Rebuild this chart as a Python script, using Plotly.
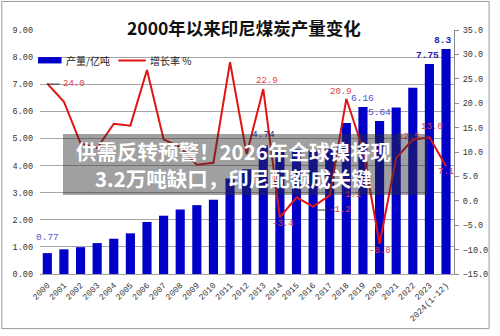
import plotly.graph_objects as go

# ---------------- data ----------------
years = ["2000", "2001", "2002", "2003", "2004", "2005", "2006", "2007", "2008",
         "2009", "2010", "2011", "2012", "2013", "2014", "2015", "2016", "2017",
         "2018", "2019", "2020", "2021", "2022", "2023", "2024(1-12)"]
production = [0.77, 0.91, 0.99, 1.14, 1.30, 1.50, 1.92, 2.15, 2.38, 2.54, 2.74,
              3.52, 3.86, 4.74, 4.58, 4.61, 4.56, 4.61, 5.57, 6.16, 5.64, 6.14,
              6.87, 7.75, 8.30]
growth = [24.0, 20.3, 11.8, 10.8, 15.8, 15.4, 26.8, 12.6, 11.0, 7.4, 7.8, 28.4,
          9.6, 22.9, -3.4, 0.7, -1.2, 1.1, 20.9, 10.5, -8.8, 8.8, 12.5, 13.0, 7.1]

title_text = "2000年以来印尼煤炭产量变化"
legend_names = ["产量/亿吨", "增长率 %"]
overlay_text = "供需反转预警！2026年全球镍将现<br>3.2万吨缺口，印尼配额成关键"

# labelled points (index into years)
bar_label_idx = [0, 13, 19, 20, 23, 24]
line_label_idx = [0, 13, 14, 16, 17, 18, 20, 22, 23, 24]

# ---------------- styling / layout ----------------
W, H = 500, 336
ML, MR, MT, MB = 40, 37.3, 30, 58
PW, PH = W - ML - MR, H - MT - MB

def xp(px):
    return (px - ML) / PW

def yp(py):
    return (H - MB - py) / PH

BLUE = "rgb(0,0,200)"
RED = "rgb(225,20,20)"
MONO = "Liberation Mono"
CJK = "Noto Sans CJK SC"

fig = go.Figure()
fig.add_trace(go.Bar(x=years, y=production, name=legend_names[0],
                     marker=dict(color=BLUE, line=dict(width=0)),
                     width=0.55, yaxis="y"))
fig.add_trace(go.Scatter(x=years, y=growth, name=legend_names[1], mode="lines",
                         line=dict(color=RED, width=2), yaxis="y2"))

annotations = []
# bar data labels: (xshift, yshift, color, bold)
bar_label_style = {
    0: (0, 16, "#5a5ad2", False),
    13: (0, 11, "#1e1e9e", False),
    19: (0, 9, "#5050d0", False),
    20: (0, 9, "#5050d0", False),
    23: (-2, 8, "#2323b0", True),
    24: (-3.5, 8, "#2323b0", True),
}
for i in bar_label_idx:
    dx, dy, col, bold = bar_label_style[i]
    txt = f"{production[i]:.2f}".rstrip("0") if i == 24 else f"{production[i]:.2f}"
    if bold:
        txt = f"<b>{txt}</b>"
    annotations.append(dict(x=i, y=production[i], xref="x", yref="y",
                            text=txt, showarrow=False, xshift=dx, yshift=dy,
                            xanchor="center", yanchor="middle",
                            font=dict(family=MONO, size=9.5, color=col)))

# line data labels
line_label_style = {
    0: (26.5, 0), 13: (4, 8), 14: (3, -7), 16: (27, -3), 17: (23, 0),
    18: (-5, 7), 20: (0, -7), 22: (-4, 3), 23: (2.5, 10), 24: (0, -6),
}
for i in line_label_idx:
    dx, dy = line_label_style[i]
    annotations.append(dict(x=i, y=growth[i], xref="x", yref="y2",
                            text=f"{growth[i]:.1f}", showarrow=False,
                            xshift=dx, yshift=dy,
                            xanchor="center", yanchor="middle",
                            font=dict(family=MONO, size=9, color="#e43c3c")))

# title
annotations.append(dict(x=xp(248), y=yp(27), xref="paper", yref="paper",
                        text=f"<b>{title_text}</b>", showarrow=False,
                        xanchor="center", yanchor="middle",
                        font=dict(family=CJK, size=17.5, color="#111111")))
# legend texts
annotations.append(dict(x=xp(65), y=yp(61), xref="paper", yref="paper",
                        xanchor="left", yanchor="middle",
                        text=legend_names[0], showarrow=False,
                        font=dict(family=CJK, size=10, color="#222222")))
annotations.append(dict(x=xp(150), y=yp(61), xref="paper", yref="paper",
                        xanchor="left", yanchor="middle",
                        text=legend_names[1], showarrow=False,
                        font=dict(family=CJK, size=10, color="#222222")))
# overlay box and text (last -> on top)
annotations.append(dict(x=xp(249.5), y=yp(166.5), xref="paper", yref="paper",
                        xanchor="center", yanchor="middle",
                        text=" ", showarrow=False, width=365, height=61,
                        bgcolor="rgba(45,45,45,0.45)", borderpad=0,
                        borderwidth=0))
annotations.append(dict(x=xp(238), y=yp(167), xref="paper", yref="paper",
                        xanchor="center", yanchor="middle",
                        text=f"<b>{overlay_text}</b>", showarrow=False,
                        font=dict(family=CJK, size=20.5, color="white")))

shapes = [
    # chart border
    dict(type="rect", xref="paper", yref="paper", x0=xp(1), x1=xp(498.5),
         y0=yp(1), y1=yp(333.5), line=dict(color="#9a9a9a", width=1),
         layer="below"),
    # legend swatches
    dict(type="rect", xref="paper", yref="paper", x0=xp(38), x1=xp(62),
         y0=yp(57.5), y1=yp(64), fillcolor=BLUE, line=dict(width=0)),
    dict(type="line", xref="paper", yref="paper", x0=xp(120), x1=xp(148),
         y0=yp(61), y1=yp(61), line=dict(color=RED, width=2)),
    # leader lines of data labels
    dict(type="line", xref="paper", yref="paper", x0=xp(47), x1=xp(60),
         y0=yp(85), y1=yp(85), line=dict(color="#333333", width=1)),
    dict(type="line", xref="paper", yref="paper", x0=xp(323), x1=xp(333),
         y0=yp(213), y1=yp(213), line=dict(color="#333333", width=1)),
]

fig.update_layout(
    width=W, height=H, autosize=False,
    margin=dict(l=ML, r=MR, t=MT, b=MB, pad=0),
    paper_bgcolor="white", plot_bgcolor="white",
    showlegend=False, bargap=0.45,
    annotations=annotations, shapes=shapes,
    xaxis=dict(type="category", range=[-0.44, 24.48], tickangle=-45,
               showline=True, linecolor="#a0a0a0", linewidth=1,
               showgrid=False, ticks="", ticklabelstandoff=2,
               tickfont=dict(family=MONO, size=8.5, color="#333333")),
    yaxis=dict(range=[0, 9], dtick=1, tickformat=".2f",
               showgrid=True, gridcolor="#a6a6a6", gridwidth=1,
               zeroline=False, showline=False, ticks="",
               ticklabelstandoff=6,
               tickfont=dict(family=MONO, size=8.5, color="#333333")),
    yaxis2=dict(range=[-15, 35], dtick=5, tickformat=".1f", overlaying="y",
                side="right", showgrid=False, zeroline=False,
                showline=True, linecolor="#8a8a8a", linewidth=1,
                ticks="outside", ticklen=4, tickcolor="#8a8a8a",
                ticklabelstandoff=2,
                tickfont=dict(family=MONO, size=8.5, color="#333333")),
)

fig.write_html("out.html")
